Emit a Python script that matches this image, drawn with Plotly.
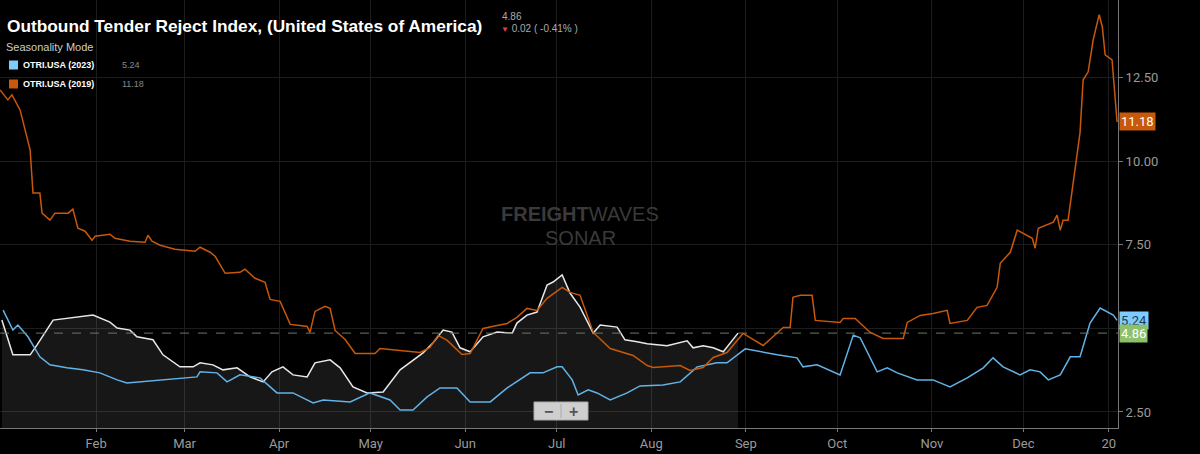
import plotly.graph_objects as go
import datetime as dt

# day offsets (read in 1/3.14-px units) and values
d2019 = [0,2.5,3.8,6.4,9.6,10.5,12.7,13.4,15.9,17.5,21.7,23.2,24.8,27.1,29.3,30.3,35.0,36.6,41.4,46.2,47.1,48.4,51.0,55.7,62.1,63.7,66.9,68.5,71.7,76.4,78.0,81.2,84.4,86.0,89.2,92.4,95.5,97.8,98.7,100.3,103.5,105.1,106.7,109.9,113.1,119.4,121.0,126.4,133.8,136.9,139.5,142.4,147.1,149.7,153.8,158.3,161.5,164.6,167.8,171.0,174.2,179.0,181.5,184.7,188.9,194.3,201.6,206.1,208.0,216.6,219.7,223.9,227.1,231.5,236.6,243.0,249.4,251.6,252.5,254.8,258.6,259.6,267.5,268.5,272.3,277.1,281.2,287.6,288.9,293.0,297.1,301.6,302.5,308.0,311.1,314.3,317.5,318.5,321.7,323.9,328.7,329.6,330.6,335.4,336.6,337.6,338.5,340.1,341.7,343.9,344.9,346.5,348.1,350.0,351.0,351.9,354.1,355.1,355.7]
v2019 = [12.14,11.84,11.99,11.54,10.34,9.05,9.05,8.45,8.24,8.45,8.45,8.57,8.0,7.91,7.64,7.76,7.82,7.7,7.61,7.58,7.79,7.61,7.49,7.37,7.31,7.43,7.28,7.16,6.65,6.68,6.77,6.5,6.38,5.87,5.81,5.12,5.09,5.06,4.88,5.51,5.66,5.6,4.94,4.67,4.25,4.25,4.4,4.34,4.28,4.43,4.79,4.64,4.22,4.25,5.0,5.09,5.15,5.33,5.6,5.54,5.9,6.23,6.08,5.99,4.88,4.4,4.19,3.89,3.83,3.89,3.74,3.83,4.13,4.28,4.85,4.49,5.03,5.03,5.93,5.99,5.99,5.24,5.18,5.3,5.3,4.88,4.7,4.7,5.18,5.39,5.45,5.54,5.15,5.24,5.63,5.69,6.23,6.95,7.28,7.94,7.7,7.4,8.0,8.18,8.39,7.94,8.24,8.24,9.36,10.86,12.44,12.68,13.64,14.39,14.03,13.19,13.04,11.84,11.18]

d2023 = [1.0,4.1,5.7,8.9,12.7,15.9,21.3,26.4,31.8,37.3,40.4,51.0,62.7,63.7,69.1,72.3,76.4,82.8,88.2,93.3,99.7,102.9,111.5,117.8,124.2,127.4,131.5,136.0,140.1,145.5,149.7,156.1,161.5,168.8,172.9,177.4,179.0,182.2,184.1,187.3,190.1,194.3,199.7,203.8,211.1,216.6,222.0,228.3,231.5,237.3,242.0,247.5,253.8,255.7,260.2,267.5,271.7,273.9,279.3,282.5,285.7,292.0,297.1,302.5,308.0,313.1,316.2,319.4,324.8,328.0,331.2,333.8,337.6,340.8,343.9,347.1,350.3,354.5,355.7]
v2023 = [5.55,4.95,5.1,4.75,4.15,3.91,3.82,3.76,3.67,3.46,3.37,3.46,3.55,3.7,3.67,3.4,3.61,3.52,3.07,3.07,2.77,2.86,2.8,3.07,2.86,2.56,2.56,2.95,3.22,3.22,2.8,2.8,3.22,3.67,3.67,3.85,3.85,3.46,3.01,3.16,3.07,2.86,3.07,3.28,3.31,3.4,3.85,3.97,3.97,4.39,4.3,4.21,4.12,3.85,3.91,3.61,4.8,4.72,3.7,3.82,3.67,3.46,3.46,3.25,3.52,3.82,4.12,3.85,3.61,3.76,3.7,3.46,3.61,4.15,4.15,5.16,5.61,5.4,5.24]

dcur = [0.6,4.1,9.6,11.8,16.9,22.3,29.6,35.0,37.3,41.4,43.6,48.7,51.9,57.3,61.5,63.7,67.8,71.0,75.5,79.6,83.8,86.6,90.1,93.3,97.8,100.3,105.1,108.3,112.4,116.9,122.0,127.4,134.7,137.9,141.1,143.9,146.5,149.7,153.8,158.3,163.1,164.6,167.8,171.0,174.2,176.1,179.0,181.5,184.7,188.9,191.1,196.5,199.0,202.9,206.1,212.4,218.8,220.7,223.9,227.1,230.3,235.0]
vcur = [5.25,4.21,4.21,4.51,5.25,5.31,5.4,5.19,5.01,4.95,4.75,4.66,4.21,3.85,3.85,3.97,3.91,3.76,3.82,3.55,3.4,3.7,3.85,3.61,3.55,3.97,4.06,3.82,3.25,3.07,3.1,3.76,4.27,4.57,4.95,4.89,4.42,4.3,4.75,4.89,4.86,5.16,5.4,5.49,6.3,6.39,6.6,6.06,5.64,4.86,5.1,5.04,4.66,4.6,4.54,4.48,4.63,4.42,4.48,4.42,4.3,4.86]

month_labels = ["Feb","Mar","Apr","May","Jun","Jul","Aug","Sep","Oct","Nov","Dec","20"]
month_ticks = ["2024-02-01","2024-03-01","2024-04-01","2024-05-01","2024-06-01","2024-07-01","2024-08-01","2024-09-01","2024-10-01","2024-11-01","2024-12-01","2024-12-29"]
ytick_vals = [2.5, 5.0, 7.5, 10.0, 12.5]
ytick_text = ["2.50", "", "7.50", "10.00", "12.50"]

base = dt.datetime(2024, 1, 1)
def dates(ds):
    # readings were taken at 3.14 px/unit; the axis is 3.05 px/day
    return [base + dt.timedelta(days=d * 3.14 / 3.05 - 0.5) for d in ds]

ORANGE = "#c8580a"; BLUE = "#62b3e8"; WHITE = "#e8e8e8"; GREEN = "#8cc06c"
PW, PH = 1118, 428

def px(x): return x / PW
def py(y): return 1 - y / PH

fig = go.Figure()
fig.add_trace(go.Scatter(x=dates(dcur), y=vcur, mode="lines", line=dict(color=WHITE, width=1.5),
                         fill="tozeroy", fillcolor="rgba(255,255,255,0.09)", hoverinfo="skip"))
fig.add_trace(go.Scatter(x=dates(d2023), y=v2023, mode="lines", line=dict(color=BLUE, width=1.5), hoverinfo="skip"))
fig.add_trace(go.Scatter(x=dates(d2019), y=v2019, mode="lines", line=dict(color=ORANGE, width=1.5), hoverinfo="skip"))

fig.add_hline(y=vcur[-1], line=dict(color="#6a7a60", width=1, dash="dash"))

fig.update_layout(
    width=1200, height=454, paper_bgcolor="black", plot_bgcolor="black",
    margin=dict(l=0, r=82, t=0, b=26, autoexpand=False), showlegend=False,
    font=dict(family="Roboto, Arial, sans-serif", color="#9a9a9a"),
    xaxis=dict(type="date", range=[base - dt.timedelta(days=0.5), base + dt.timedelta(days=366)],
               tickvals=month_ticks, ticktext=month_labels, showgrid=True, gridcolor="#1c1c1c",
               tickfont=dict(size=13, color="#9a9a9a"), ticks="outside", ticklen=3, tickcolor="#777",
               showline=True, linecolor="#777", zeroline=False),
    yaxis=dict(side="right", range=[2.02, 14.83], tickvals=ytick_vals, ticktext=ytick_text,
               showgrid=True, gridcolor="#1c1c1c", tickfont=dict(size=13, color="#9a9a9a"),
               ticks="outside", ticklen=4, tickcolor="#777", showline=True, linecolor="#777", zeroline=False),
)

def note(x, y, text, size, color, anchor="left", family="Liberation Sans, Arial", **kw):
    fig.add_annotation(x=px(x), y=py(y), xref="paper", yref="paper", xanchor=anchor, yanchor="middle",
                       text=text, showarrow=False, font=dict(size=size, color=color, family=family), **kw)

note(5, 26, "<b>Outbound Tender Reject Index, (United States of America)</b>", 17.3, "white")
note(500, 16, "4.86", 10, "#aaaaaa")
note(499, 28, "<span style='color:#e04040;font-size:8px'>▼</span> 0.02 ( -0.41% )", 10, "#aaaaaa")
note(4, 47, "Seasonality Mode", 11, "#cccccc")
for i, (name, val, col) in enumerate([("OTRI.USA (2023)", v2023[-1], "#7ecbff"), ("OTRI.USA (2019)", v2019[-1], ORANGE)]):
    yy = 65 + 19 * i
    fig.add_shape(type="rect", xref="paper", yref="paper", x0=px(9), x1=px(18), y0=py(yy + 4.5), y1=py(yy - 4.5),
                  fillcolor=col, line=dict(width=0))
    note(21, yy, f"<b>{name}</b>", 9, "white")
    note(120, yy, f"{val:.2f}", 9, "#888888")
# watermark
note(580, 214, "<b>FREIGHT</b>WAVES", 20, "#3a3a3a", anchor="center")
note(580, 238, "SONAR", 20, "#3a3a3a", anchor="center")
# zoom buttons
fig.add_shape(type="rect", xref="paper", yref="paper", x0=px(534), x1=px(588), y0=py(420), y1=py(402),
              fillcolor="#cfcfcf", line=dict(color="#aaaaaa", width=1))
fig.add_shape(type="line", xref="paper", yref="paper", x0=px(561), x1=px(561), y0=py(418), y1=py(404),
              line=dict(color="#aaaaaa", width=1))
note(548, 411, "<b>−</b>", 16, "#555555", anchor="center")
note(573, 411, "<b>+</b>", 16, "#555555", anchor="center")
# right value tags
for val, bg, fc in [(v2019[-1], "#c8580a", "white"), (v2023[-1], "#7ecbff", "#1a3a55"), (vcur[-1], GREEN, "white")]:
    fig.add_annotation(x=1.0, y=val, xref="paper", yref="y", xanchor="left", yanchor="middle", xshift=1,
                       text=f"{val:.2f}", showarrow=False, bgcolor=bg, borderpad=1,
                       font=dict(size=13, color=fc))

fig.write_html("out.html", config={"displayModeBar": False},
               post_script="document.body.style.margin='0';document.body.style.background='black';")
